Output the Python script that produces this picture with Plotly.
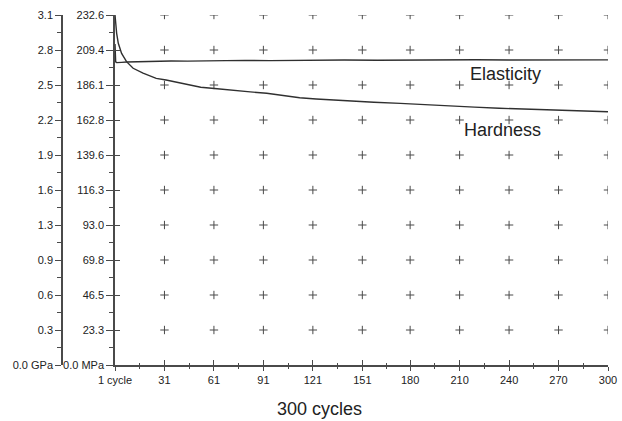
import plotly.graph_objects as go

# ---- data ----
x_tick_labels = ["1 cycle", "31", "61", "91", "121", "151", "180", "210", "240", "270", "300"]
x_tick_values = [1, 31, 61, 91, 121, 151, 180, 210, 240, 270, 300]

mpa_tick_values = [0.0, 23.26, 46.52, 69.78, 93.04, 116.3, 139.56, 162.82, 186.08, 209.34, 232.6]
mpa_tick_labels = ["0.0 MPa", "23.3", "46.5", "69.8", "93.0", "116.3", "139.6", "162.8", "186.1", "209.4", "232.6"]
gpa_tick_values = [0.0, 0.314, 0.628, 0.942, 1.256, 1.57, 1.884, 2.198, 2.512, 2.826, 3.14]
gpa_tick_labels = ["0.0 GPa", "0.3", "0.6", "0.9", "1.3", "1.6", "1.9", "2.2", "2.5", "2.8", "3.1"]

hardness_cycles = [1, 2, 3, 5, 8, 12, 18, 26, 32, 42, 53, 63, 73, 83, 93, 103, 113, 123, 133,
                   143, 158, 174, 189, 204, 219, 234, 249, 265, 280, 292, 300]
hardness_mpa = [232.6, 220.4, 213.8, 207.1, 201.6, 197.2, 193.9, 190.5, 189.4, 187.2, 184.6,
                183.6, 182.8, 181.5, 180.6, 179.0, 177.6, 176.8, 176.1, 175.4, 174.6, 173.9,
                172.9, 172.1, 171.4, 170.6, 170.1, 169.5, 168.9, 168.5, 168.3]

elasticity_cycles = [1, 1.4, 2, 3, 5, 8, 12, 18, 26, 35, 45, 55, 65, 80, 95, 110, 125, 140,
                     160, 180, 200, 220, 240, 260, 280, 300]
elasticity_gpa = [2.88, 2.72, 2.713, 2.712, 2.715, 2.718, 2.720, 2.722, 2.724, 2.727, 2.726,
                  2.729, 2.731, 2.733, 2.731, 2.734, 2.733, 2.736, 2.734, 2.737, 2.735, 2.738,
                  2.736, 2.738, 2.736, 2.737]

# ---- styling ----
FONT = "Liberation Sans, Arial, sans-serif"
AX = "#4a4a4a"
LINE = "#303030"

x_minor = [(a + b) / 2 for a, b in zip(x_tick_values[:-1], x_tick_values[1:])]
y_minor = [(a + b) / 2 for a, b in zip(mpa_tick_values[:-1], mpa_tick_values[1:])]
g_minor = [(a + b) / 2 for a, b in zip(gpa_tick_values[:-1], gpa_tick_values[1:])]

fig = go.Figure()

# grid crosses
cx, cy = [], []
for xv in x_tick_values[1:]:
    for yv in mpa_tick_values[1:]:
        cx.append(xv)
        cy.append(yv)
fig.add_trace(go.Scatter(x=cx, y=cy, mode="markers", cliponaxis=True, hoverinfo="skip",
                         marker=dict(symbol="cross-thin", size=6, line=dict(width=1, color=AX), color=AX),
                         showlegend=False))

fig.add_trace(go.Scatter(x=hardness_cycles, y=hardness_mpa, mode="lines", name="Hardness",
                         line=dict(color=LINE, width=1.4), showlegend=False))
fig.add_trace(go.Scatter(x=elasticity_cycles, y=elasticity_gpa, mode="lines", name="Elasticity",
                         yaxis="y2", line=dict(color=LINE, width=1.4), showlegend=False))
# helpers for overlay axes
fig.add_trace(go.Scatter(x=[1], y=[0], xaxis="x2", yaxis="y3", mode="markers",
                         marker=dict(opacity=0), hoverinfo="skip", showlegend=False))

W, H = 622, 421
L, R, T, B = 10, 14, 15, 56
pw = W - L - R
x0 = (115 - L) / pw
gpos = (62 - L) / pw

tickfont = dict(family=FONT, size=11, color="#222")

fig.update_layout(
    width=W, height=H,
    margin=dict(l=L, r=R, t=T, b=B, autoexpand=False),
    paper_bgcolor="white", plot_bgcolor="white",
    font=dict(family=FONT, color="#222"),
    xaxis=dict(domain=[x0, 1], range=[1, 300], tickmode="array", tickvals=x_tick_values,
               ticktext=x_tick_labels, ticks="outside", ticklen=4, tickwidth=1.2, tickcolor=AX,
               showline=True, linecolor=AX, linewidth=1.5, showgrid=False, zeroline=False,
               tickfont=tickfont, automargin=False,
               minor=dict(tickvals=x_minor, ticks="outside", ticklen=2, tickcolor=AX, tickwidth=1,
                          showgrid=False)),
    xaxis2=dict(domain=[x0, 1], range=[1, 300], overlaying="x", anchor="y3", side="bottom",
                tickmode="array", tickvals=x_tick_values, showticklabels=False,
                ticks="inside", ticklen=5, tickwidth=1.2, tickcolor=AX, showline=False,
                showgrid=False, zeroline=False, automargin=False,
                minor=dict(tickvals=x_minor, ticks="inside", ticklen=2, tickcolor=AX, tickwidth=1,
                           showgrid=False)),
    yaxis=dict(range=[0, 232.6], tickmode="array", tickvals=mpa_tick_values, ticktext=mpa_tick_labels,
               ticks="outside", ticklen=7, tickwidth=1.2, tickcolor=AX, showline=True,
               linecolor=AX, linewidth=1.5, showgrid=False, zeroline=False, tickfont=tickfont,
               automargin=False,
               minor=dict(tickvals=y_minor, ticks="outside", ticklen=4, tickcolor=AX, tickwidth=1,
                          showgrid=False)),
    yaxis3=dict(range=[0, 232.6], overlaying="y", anchor="x", side="left", tickmode="array",
                tickvals=mpa_tick_values[1:], showticklabels=False, ticks="inside", ticklen=5,
                tickwidth=1.2, tickcolor=AX, showline=False, showgrid=False, zeroline=False,
                automargin=False),
    yaxis2=dict(range=[0, 3.14], overlaying="y", anchor="free", position=gpos, side="left",
                tickmode="array", tickvals=gpa_tick_values, ticktext=gpa_tick_labels,
                ticks="outside", ticklen=6, tickwidth=1.2, tickcolor=AX, showline=True,
                linecolor=AX, linewidth=1.5, showgrid=False, zeroline=False, tickfont=tickfont,
                automargin=False,
                minor=dict(tickvals=g_minor, ticks="outside", ticklen=4, tickcolor=AX, tickwidth=1,
                           showgrid=False)),
    annotations=[
        dict(text="Elasticity", x=238, y=2.611, xref="x", yref="y2", showarrow=False,
             font=dict(family=FONT, size=18, color="#222")),
        dict(text="Hardness", x=236, y=156.2, xref="x", yref="y", showarrow=False,
             font=dict(family=FONT, size=18, color="#222")),
        dict(text="300 cycles", x=(319 - L) / pw, y=-0.1257, xref="paper", yref="paper",
             xanchor="center", yanchor="middle",
             showarrow=False, font=dict(family=FONT, size=18, color="#222")),
    ],
)

fig.write_html(
    "out.html",
    config={"displayModeBar": False},
    post_script="document.body.style.margin='0';document.body.style.overflow='hidden';",
)
